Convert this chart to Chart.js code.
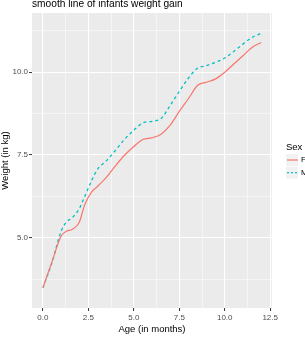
<!DOCTYPE html>
<html>
<head>
<meta charset="utf-8">
<script src="https://cdn.jsdelivr.net/npm/chart.js@4"></script>
<style>
  html, body { margin: 0; padding: 0; background: #fff; }
  canvas { display: block; }
</style>
</head>
<body>
<canvas id="grafico" width="305" height="337"></canvas>
<script>
// datos
const edades = [0, 0.5, 1, 1.3, 1.6, 2, 2.3, 2.7, 3, 3.5, 4, 4.5, 5, 5.5, 6, 6.5, 7, 7.5, 8, 8.5, 9, 9.5, 10, 10.5, 11, 11.5, 12];
const pesoF = [3.49, 4.28, 5.05, 5.2, 5.25, 5.47, 6.0, 6.4, 6.55, 6.83, 7.18, 7.5, 7.76, 7.97, 8.02, 8.13, 8.4, 8.82, 9.2, 9.6, 9.7, 9.8, 10.0, 10.25, 10.5, 10.75, 10.9];
const pesoM = [3.49, 4.25, 5.2, 5.48, 5.6, 5.88, 6.25, 6.75, 7.07, 7.33, 7.65, 7.98, 8.25, 8.47, 8.52, 8.6, 9.0, 9.42, 9.82, 10.12, 10.2, 10.3, 10.43, 10.63, 10.85, 11.05, 11.18];
const ticksX = [0, 1.25, 2.5, 3.75, 5, 6.25, 7.5, 8.75, 10, 11.25, 12.5];
const ticksY = [3.75, 5, 6.25, 7.5, 8.75, 10, 11.25];
const sexos = ['F', 'M'];

const FUENTE = '"Liberation Sans", Arial, sans-serif';
const colores = ['#F8766D', '#00BFC4'];
const esMayor = v => Math.abs(v / 2.5 - Math.round(v / 2.5)) < 1e-6;

const fondoPanel = {
  id: 'fondoPanel',
  beforeDraw(chart) {
    const { ctx, chartArea: a } = chart;
    ctx.save();
    ctx.fillStyle = '#EBEBEB';
    ctx.fillRect(a.left, a.top, a.right - a.left, a.bottom - a.top);
    ctx.restore();
  }
};

const extras = {
  id: 'extras',
  afterDraw(chart) {
    const { ctx, chartArea: a } = chart;
    ctx.save();
    // titulo
    ctx.fillStyle = '#000';
    ctx.font = '10.2px ' + FUENTE;
    ctx.textAlign = 'left';
    ctx.textBaseline = 'alphabetic';
    ctx.fillText('smooth line of infants weight gain', a.left, 7);
    // leyenda
    ctx.font = '9.5px ' + FUENTE;
    ctx.fillText('Sex', 286, 150);
    sexos.forEach((s, i) => {
      const y = 160 + i * 12.7;
      ctx.fillStyle = '#F2F2F2';
      ctx.fillRect(286, y - 6, 12, 12);
      ctx.strokeStyle = colores[i];
      ctx.lineWidth = 1.2;
      ctx.setLineDash(i === 1 ? [2, 2] : []);
      ctx.beginPath();
      ctx.moveTo(287, y);
      ctx.lineTo(298, y);
      ctx.stroke();
      ctx.setLineDash([]);
      ctx.fillStyle = '#000';
      ctx.font = '8px ' + FUENTE;
      ctx.textBaseline = 'middle';
      ctx.fillText(s, 301, y);
      ctx.textBaseline = 'alphabetic';
    });
    ctx.restore();
  }
};

const rejilla = {
  color: c => '#FFFFFF',
  lineWidth: c => (c.tick && esMayor(c.tick.value) ? 1.1 : 0.5),
  tickColor: c => (c.tick && esMayor(c.tick.value) ? '#333333' : 'rgba(0,0,0,0)'),
  tickLength: 3,
  tickWidth: 1
};

new Chart(document.getElementById('grafico').getContext('2d'), {
  type: 'line',
  data: {
    datasets: [
      {
        label: 'F',
        data: edades.map((e, i) => ({ x: e, y: pesoF[i] })),
        borderColor: colores[0],
        borderWidth: 1.2,
        pointRadius: 0,
        fill: false,
        cubicInterpolationMode: 'monotone'
      },
      {
        label: 'M',
        data: edades.map((e, i) => ({ x: e, y: pesoM[i] })),
        borderColor: colores[1],
        borderWidth: 1.3,
        borderDash: [3, 3],
        pointRadius: 0,
        fill: false,
        cubicInterpolationMode: 'monotone'
      }
    ]
  },
  options: {
    responsive: false,
    animation: false,
    devicePixelRatio: 1,
    layout: { padding: { top: 13, right: 33, left: 0, bottom: 0 } },
    plugins: { legend: { display: false }, tooltip: { enabled: false } },
    scales: {
      x: {
        type: 'linear',
        min: -0.6,
        max: 12.6,
        afterBuildTicks: s => { s.ticks = ticksX.map(v => ({ value: v })); },
        afterFit: s => { s.height = 29; },
        grid: rejilla,
        border: { display: false },
        ticks: {
          autoSkip: false,
          maxRotation: 0,
          padding: 2,
          color: '#4D4D4D',
          font: { family: FUENTE, size: 8 },
          callback: v => (esMayor(v) ? v.toFixed(1) : '')
        },
        title: {
          display: true,
          text: 'Age (in months)',
          color: '#000',
          font: { family: FUENTE, size: 9.5 },
          padding: { top: 0, bottom: 2 }
        }
      },
      y: {
        min: 2.88,
        max: 11.79,
        afterBuildTicks: s => { s.ticks = ticksY.map(v => ({ value: v })); },
        afterFit: s => { s.width = 32; },
        grid: rejilla,
        border: { display: false },
        ticks: {
          autoSkip: false,
          padding: 1,
          color: '#4D4D4D',
          font: { family: FUENTE, size: 8 },
          callback: v => (esMayor(v) ? v.toFixed(1) : '')
        },
        title: {
          display: true,
          text: 'Weight (in kg)',
          color: '#000',
          font: { family: FUENTE, size: 9.5 },
          padding: { top: 0, bottom: 0 }
        }
      }
    }
  },
  plugins: [fondoPanel, extras]
});
</script>
</body>
</html>
